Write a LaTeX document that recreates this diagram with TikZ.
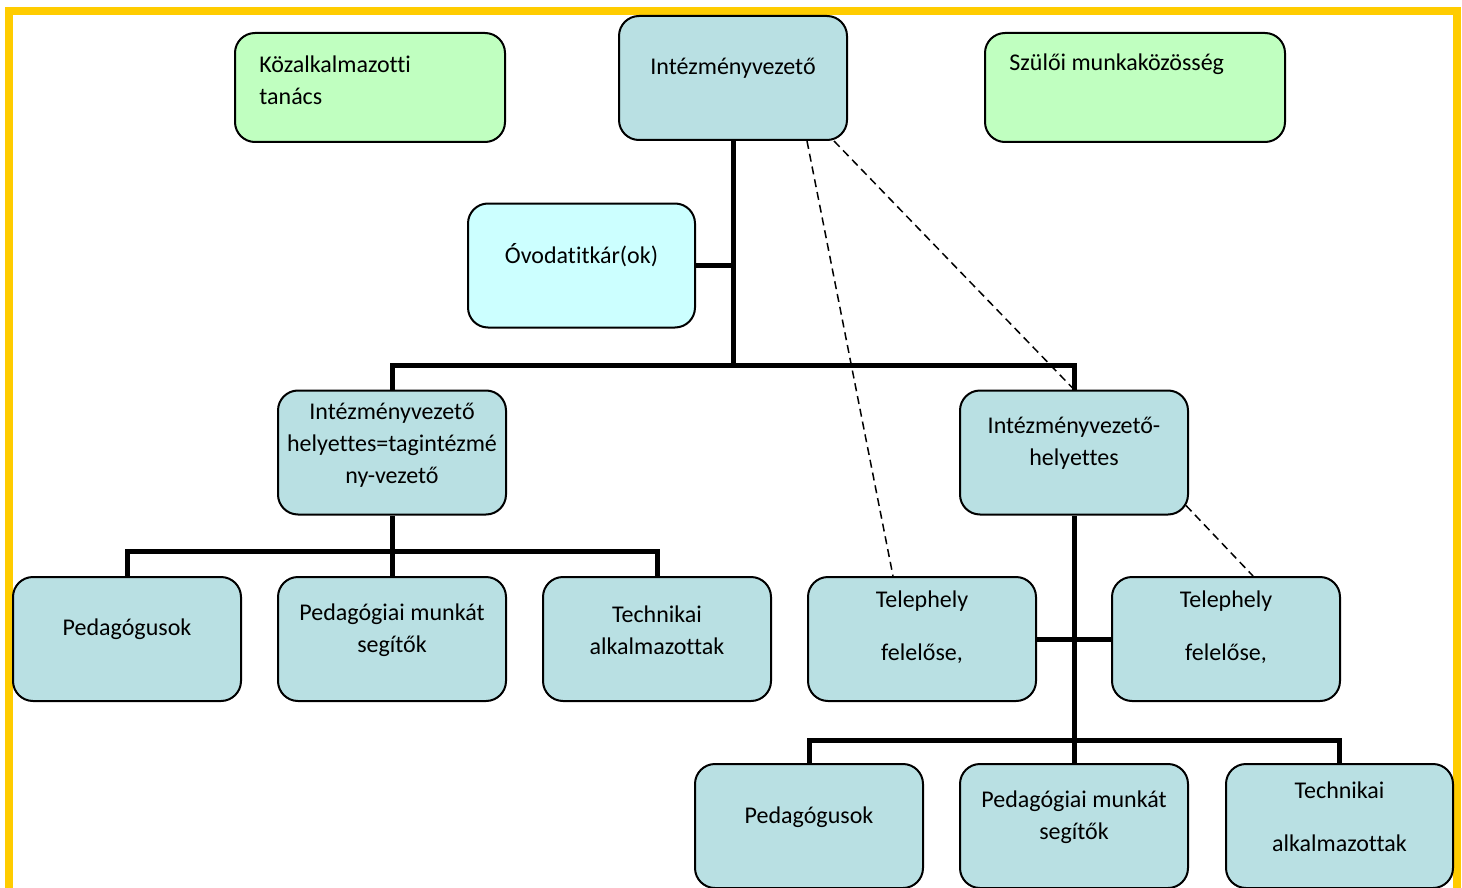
\documentclass[tikz,border=0pt]{standalone}
\usepackage{fontspec}
\setmainfont{Carlito}[Ligatures=NoCommon]
\definecolor{boxblue}{HTML}{B9E0E3}
\definecolor{boxgreen}{HTML}{C0FFC0}
\definecolor{boxcyan}{HTML}{CCFFFF}
\definecolor{frameyellow}{HTML}{FFCC00}
\begin{document}
\begin{tikzpicture}[x=0.5pt,y=-0.5pt,
    box/.style={draw,line width=1pt,rounded corners=10pt,fill=boxblue,
        minimum width=114pt,minimum height=62pt,inner sep=0pt},
    greenbox/.style={box,fill=boxgreen,minimum height=54.5pt},
    txt/.style={inner sep=0pt,align=center,anchor=center,
        font=\fontsize{12}{16}\selectfont},
    trunk/.style={line width=2.5pt},
    dashline/.style={line width=0.75pt,dash pattern=on 4pt off 2.5pt}]
    \clip (0,0) rectangle (1462,888);
    % frame
    \draw[frameyellow,line width=4pt] (9,11.5) rectangle (1457,920);
    % top row
    \node[greenbox,minimum width=135pt,
        label={[txt,align=left,anchor=west,xshift=12.5pt,yshift=3.5pt]west:{Közalkalmazotti\\tanács}}]
        (kozalk) at (370,87.5) {};
    \node[box,label={[txt,yshift=5pt]center:Intézményvezető}] (vezeto) at (733,78) {};
    \node[greenbox,minimum width=150pt,
        label={[txt,align=left,anchor=west,xshift=12.5pt,yshift=11.75pt]west:Szülői munkaközösség}]
        (szuloi) at (1135,87.5) {};
    \node[box,fill=boxcyan,minimum width=113.5pt,
        label={[txt,yshift=5pt]center:Óvodatitkár(ok)}] (titkar) at (581.5,265.5) {};
    % deputies
    \node[box,label={[txt,yshift=3.75pt]center:{Intézményvezető\\helyettes=tagintézmé\\ny-vezető}}]
        (helyL) at (392,452.5) {};
    \node[box,label={[txt,yshift=4.75pt]center:{Intézményvezető-\\helyettes}}]
        (helyR) at (1074,452.5) {};
    % third row
    \node[box,label={[txt,yshift=5pt]center:Pedagógusok}] (pedL) at (127,639) {};
    \node[box,label={[txt,yshift=4.5pt]center:{Pedagógiai munkát\\segítők}}] (segL) at (392,639) {};
    \node[box,label={[txt,yshift=4.5pt]center:{Technikai\\alkalmazottak}}] (techL) at (657,639) {};
    \node[box,label={[txt,yshift=5.75pt]center:{Telephely\\[10.5pt]felelőse,}}] (telL) at (922,639) {};
    \node[box,label={[txt,yshift=5.75pt]center:{Telephely\\[10.5pt]felelőse,}}] (telR) at (1226,639) {};
    % bottom row
    \node[box,label={[txt,yshift=4.5pt]center:Pedagógusok}] (pedR) at (809,826) {};
    \node[box,label={[txt,yshift=4.5pt]center:{Pedagógiai munkát\\segítők}}] (segR) at (1074,826) {};
    \node[box,minimum width=113.5pt,
        label={[txt,yshift=4.75pt]center:{Technikai\\[10.5pt]alkalmazottak}}] (techR) at (1339.5,826) {};
    % lines
    \coordinate (bar1) at (733,365);
    \coordinate (bar2) at (392,551);
    \coordinate (bar3) at (1074,740);
    \draw[trunk] (vezeto.south) -- (bar1);
    \draw[trunk] (titkar.east) -- (titkar.east -| vezeto.south);
    \draw[trunk] (helyL.north) |- (bar1) -| (helyR.north);
    \draw[trunk] (helyL.south) -- (segL.north);
    \draw[trunk] (pedL.north) |- (bar2) -| (techL.north);
    \draw[trunk] (helyR.south) -- (segR.north);
    \draw[trunk] (telL.east) -- (telR.west);
    \draw[trunk] (pedR.north) |- (bar3) -| (techR.north);
    \draw[dashline] ([xshift=-20.5pt]vezeto.south east) -- ([xshift=-14.5pt]telL.north);
    \draw[dashline] ([xshift=-7pt]vezeto.south east) -- (helyR.north);
    \draw[dashline] ([shift={(-1.5pt,5pt)}]helyR.south east) -- ([xshift=13.5pt]telR.north);
\end{tikzpicture}
\end{document}
